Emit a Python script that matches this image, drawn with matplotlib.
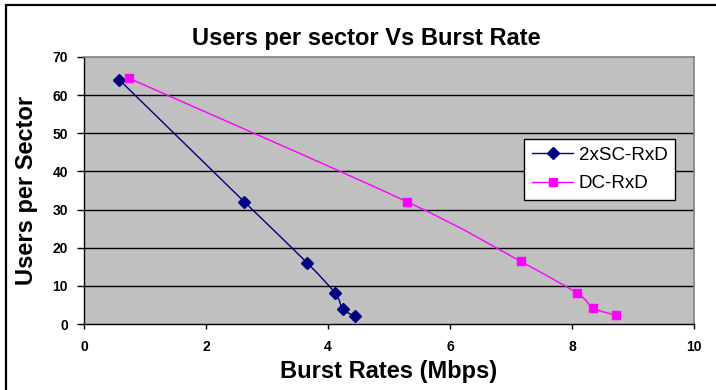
import numpy as np
import matplotlib
matplotlib.use("Agg")
import matplotlib.pyplot as plt
from matplotlib.path import Path
from matplotlib.patches import PathPatch, Rectangle
from matplotlib.lines import Line2D

# Burst rate (Mbps) vs users per sector for the two receiver configurations
sc_rate = [0.58, 2.63, 3.66, 4.12, 4.24, 4.44]
sc_users = [64, 32, 16, 8, 4, 2]
dc_rate = [0.74, 5.29, 7.16, 8.08, 8.35, 8.72]
dc_users = [64.4, 32.1, 16.4, 8.1, 4.2, 2.3]
series_names = ["2xSC-RxD", "DC-RxD"]
x_ticks = [0, 2, 4, 6, 8, 10]
y_ticks = [0, 10, 20, 30, 40, 50, 60, 70]

W, H, DPI = 716, 390, 100
plt.rcParams["font.family"] = ["Liberation Sans", "DejaVu Sans"]

fig = plt.figure(figsize=(W / DPI, H / DPI), dpi=DPI)
fig.patch.set_facecolor("white")

# chart frame (left/top edges visible)
fig.patches.append(Rectangle((6 / W, -0.05), 1.2, 1.05 - 5 / H,
                             transform=fig.transFigure, fill=False,
                             edgecolor="black", linewidth=1.6, zorder=0))

left, right, top, bottom = 84, 694, 57, 324
ax = fig.add_axes([left / W, 1 - bottom / H, (right - left) / W, (bottom - top) / H])
ax.set_facecolor("#C0C0C0")
ax.set_xlim(0, 10)
ax.set_ylim(0, 70)

for v in y_ticks[1:-1]:
    ax.axhline(v, color="black", linewidth=1.0, zorder=1)

for side in ("top", "right"):
    ax.spines[side].set_color("#808080")
    ax.spines[side].set_linewidth(1.2)
for side in ("left", "bottom"):
    ax.spines[side].set_color("black")
    ax.spines[side].set_linewidth(1.0)

ax.set_xticks(x_ticks)
ax.set_yticks(y_ticks)
ax.set_xticklabels([str(t) for t in x_ticks], fontsize=10, fontweight="bold")
ax.set_yticklabels([str(t) for t in y_ticks], fontsize=10, fontweight="bold")
ax.tick_params(axis="x", direction="out", length=3.6, width=1, pad=8)
ax.tick_params(axis="y", direction="out", length=5, width=1, pad=6.5)


def smooth_path(xs, ys):
    """Cardinal (Catmull-Rom) Bezier path through the points."""
    p = np.column_stack([xs, ys]).astype(float)
    n = len(p)
    verts = [p[0]]
    codes = [Path.MOVETO]
    for i in range(n - 1):
        p0 = p[i - 1] if i > 0 else p[i]
        p1, p2 = p[i], p[i + 1]
        p3 = p[i + 2] if i + 2 < n else p[i + 1]
        c1 = p1 + (p2 - p0) / 6.0
        c2 = p2 - (p3 - p1) / 6.0
        verts += [c1, c2, p2]
        codes += [Path.CURVE4] * 3
    return Path(verts, codes)


series = [
    (sc_rate, sc_users, "#000080", "D", 6.0),
    (dc_rate, dc_users, "#FF00FF", "s", 6.2),
]
handles = []
for (xs, ys, col, mk, ms), name in zip(series, series_names):
    ax.add_patch(PathPatch(smooth_path(xs, ys), facecolor="none",
                           edgecolor=col, linewidth=1.0, zorder=3))
    ax.plot(xs, ys, linestyle="none", marker=mk, markersize=ms,
            color=col, markeredgecolor=col, zorder=4)
    handles.append(Line2D([], [], color=col, linewidth=1.0, marker=mk,
                          markersize=ms, markeredgecolor=col, label=name))

leg = fig.legend(handles=handles, loc="upper left",
                 bbox_to_anchor=(524 / W, 1 - 139 / H),
                 fontsize=13.5, frameon=True, fancybox=False,
                 edgecolor="black", facecolor="white", framealpha=1,
                 borderpad=0.42, labelspacing=0.6, handlelength=2.2,
                 handletextpad=0.3, borderaxespad=0)
leg.get_frame().set_linewidth(1.0)

fig.text(192 / W, 1 - 45 / H, "Users per sector Vs Burst Rate",
         ha="left", va="baseline", fontsize=17, fontweight="bold")
fig.text(389 / W, 1 - 378 / H, "Burst Rates (Mbps)",
         ha="center", va="baseline", fontsize=17, fontweight="bold")
fig.text(26 / W, 1 - 190.5 / H, "Users per Sector", rotation=90,
         ha="center", va="center", fontsize=17, fontweight="bold")

fig.savefig("out.png", dpi=DPI)
